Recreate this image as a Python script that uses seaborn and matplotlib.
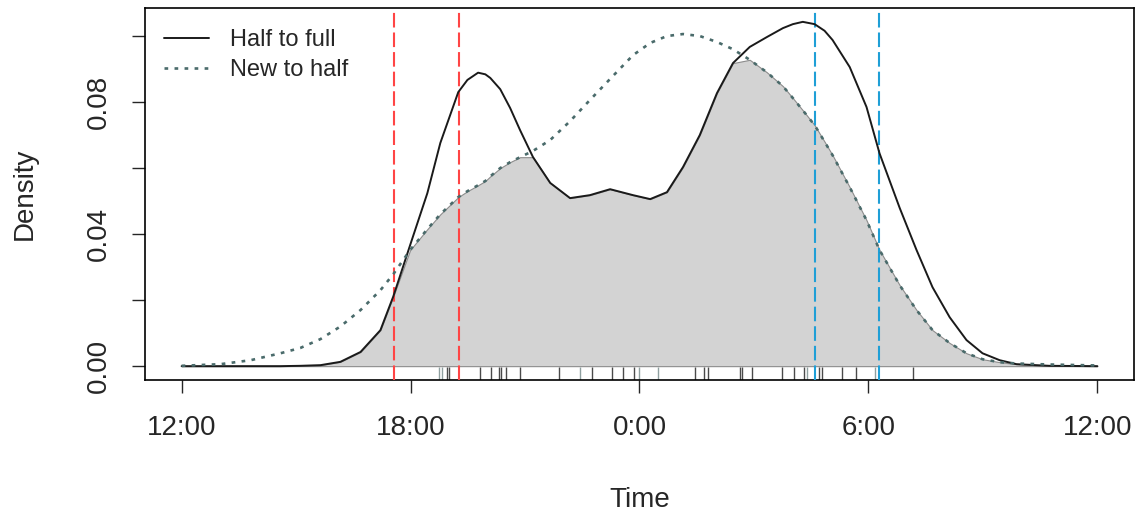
import numpy as np
import seaborn as sns
import matplotlib.pyplot as plt

# time of day in hours, 12 = noon, 24 = midnight, 36 = next noon
hours = [12.00, 13.02, 13.81, 14.59, 15.11, 15.64, 16.16, 16.69, 17.21, 17.55,
         17.99, 18.44, 18.78, 19.25, 19.49, 19.77, 19.96, 20.09, 20.35, 20.61,
         20.87, 21.21, 21.66, 22.18, 22.70, 23.23, 23.83, 24.28, 24.72, 25.14,
         25.58, 26.03, 26.45, 26.89, 27.34, 27.76, 28.02, 28.28, 28.59, 28.85,
         29.06, 29.51, 29.95, 30.29, 30.82, 31.26, 31.68, 32.13, 32.57, 32.99,
         33.44, 33.88, 34.74, 36.00]

half_full = [0.0000, 0.0000, 0.0000, 0.0000, 0.0001, 0.0003, 0.0013, 0.0043, 0.0109, 0.0212,
             0.0367, 0.0524, 0.0676, 0.0830, 0.0867, 0.0889, 0.0884, 0.0873, 0.0839, 0.0782,
             0.0715, 0.0633, 0.0555, 0.0509, 0.0518, 0.0536, 0.0518, 0.0506, 0.0527, 0.0603,
             0.0700, 0.0827, 0.0918, 0.0967, 0.0997, 0.1024, 0.1036, 0.1043, 0.1036, 0.1016,
             0.0988, 0.0906, 0.0785, 0.0645, 0.0479, 0.0352, 0.0239, 0.0148, 0.0079, 0.0039,
             0.0018, 0.0006, 0.0001, 0.0000]

new_half = [0.0001, 0.0006, 0.0018, 0.0039, 0.0055, 0.0082, 0.0120, 0.0170, 0.0230, 0.0279,
            0.0352, 0.0415, 0.0460, 0.0512, 0.0530, 0.0548, 0.0561, 0.0575, 0.0600, 0.0618,
            0.0633, 0.0652, 0.0685, 0.0742, 0.0806, 0.0870, 0.0942, 0.0979, 0.1000, 0.1006,
            0.1000, 0.0982, 0.0960, 0.0928, 0.0890, 0.0848, 0.0812, 0.0775, 0.0730, 0.0680,
            0.0639, 0.0542, 0.0442, 0.0352, 0.0245, 0.0170, 0.0109, 0.0070, 0.0039, 0.0021,
            0.0012, 0.0008, 0.0005, 0.0002]

# observed times (rug)
rug_half = [18.96, 19.01, 19.83, 20.11, 20.32, 20.38, 20.51, 20.87, 21.89, 22.76,
            23.28, 23.57, 23.86, 25.45, 25.69, 25.79, 26.63, 26.68, 26.94, 27.73,
            28.04, 28.31, 28.70, 28.78, 29.31, 29.67, 31.18]
rug_new = [18.75, 18.83, 22.44, 23.99, 24.49, 28.38, 30.16]

red_lines = [17.56, 19.26]
blue_lines = [28.59, 30.27]

xticks = [12, 18, 24, 30, 36]
xlabels = ['12:00', '18:00', '0:00', '6:00', '12:00']
yticks = [0.00, 0.02, 0.04, 0.06, 0.08, 0.10]
ylabels = ['0.00', '', '0.04', '', '0.08', '']

sns.set_style('white')
plt.rcParams['font.family'] = ['Liberation Sans', 'DejaVu Sans']

fig = plt.figure(figsize=(11.39, 5.18), dpi=100)
ax = fig.add_axes([0.1273, 0.2664, 0.8683, 0.7182])

ax.fill_between(hours, 0, np.minimum(half_full, new_half), color='#d3d3d3',
                edgecolor='#8c8c8c', linewidth=0.8, zorder=1)

sns.rugplot(x=rug_half, height=0.035, color='#4a4a4a', lw=1, ax=ax, zorder=2)
sns.rugplot(x=rug_new, height=0.035, color='#8fa0a0', lw=1, ax=ax, zorder=2)

for v in red_lines:
    ax.axvline(v, color='#ff4545', lw=1.5, dashes=(7, 2.4), zorder=3)
for v in blue_lines:
    ax.axvline(v, color='#1f9fd6', lw=1.5, dashes=(7, 2.4), zorder=3)

sns.lineplot(x=hours, y=half_full, color='#1a1a1a', lw=1.4, label='Half to full',
             solid_joinstyle='round', ax=ax, zorder=4)
sns.lineplot(x=hours, y=new_half, color='#4a6b6b', lw=1.9, linestyle=(0, (1.4, 2.4)),
             label='New to half', ax=ax, zorder=4)

ax.set_xlim(11.04, 36.96)
ax.set_ylim(-0.0042, 0.1085)
ax.set_xticks(xticks)
ax.set_xticklabels(xlabels)
ax.set_yticks(yticks)
ax.set_yticklabels(ylabels, rotation=90, va='center')
ax.tick_params(axis='both', direction='out', length=9.5, width=1, labelsize=20,
               bottom=True, left=True)
ax.tick_params(axis='x', pad=16)
ax.tick_params(axis='y', pad=14)

for s in ax.spines.values():
    s.set_color('black')
    s.set_linewidth(1.2)

ax.set_xlabel('Time', fontsize=20, va='center')
ax.xaxis.set_label_coords(0.5, -0.3226)
ax.set_ylabel('Density', fontsize=20, va='center')
ax.yaxis.set_label_coords(-0.1213, 0.5)

ax.legend(loc='upper left', bbox_to_anchor=(0.019, 0.943), frameon=False,
          fontsize=17, handlelength=1.9, handletextpad=0.9, labelspacing=0.33,
          borderpad=0, borderaxespad=0)

fig.savefig('out.png', dpi=100)
